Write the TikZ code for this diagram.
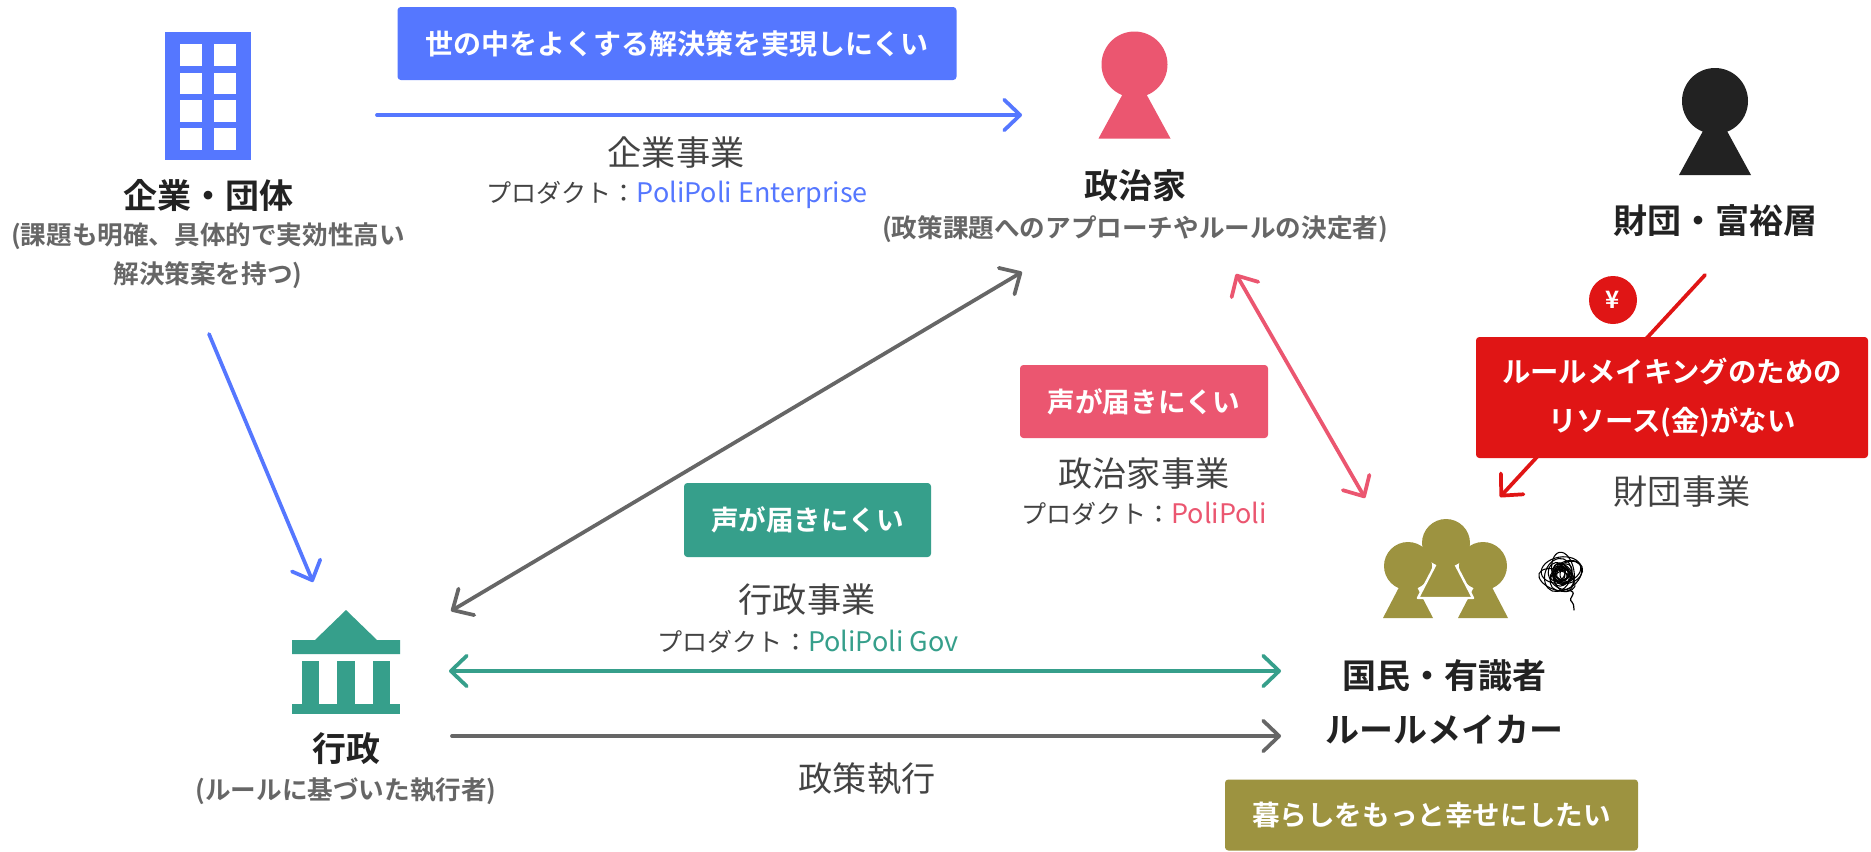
\documentclass[tikz,border=0pt]{standalone}
\usepackage{fontspec}
\setmainfont{Noto Sans CJK JP}[BoldFont={Noto Sans CJK JP Bold}]
\usetikzlibrary{arrows.meta}
\definecolor{cblue}{HTML}{5577FF}
\definecolor{cpink}{HTML}{EB5670}
\definecolor{cteal}{HTML}{369F8B}
\definecolor{cred}{HTML}{E01515}
\definecolor{colive}{HTML}{9D9340}
\definecolor{cgray}{HTML}{666666}
\definecolor{cdark}{HTML}{222222}
\newcommand{\fa}{\fontsize{25.5pt}{30pt}\selectfont}
\newcommand{\fb}{\fontsize{19.2pt}{29pt}\selectfont}
\newcommand{\fc}{\fontsize{20.7pt}{25pt}\selectfont}
\newcommand{\fcc}{\fontsize{21pt}{25pt}\selectfont}
\newcommand{\fd}{\fontsize{25.6pt}{29pt}\selectfont}
\newcommand{\fe}{\fontsize{18.8pt}{24pt}\selectfont}
\newcommand{\latprod}[2]{\textcolor{#1}{\fontsize{20.2pt}{24pt}\selectfont #2}}
\tikzset{
  x=0.75pt,y=-0.75pt,
  title/.style={inner sep=0pt,font=\fa\bfseries,text=cdark,align=center},
  sub/.style={inner sep=0pt,font=\fb\bfseries,text=cgray,align=center},
  biz/.style={inner sep=0pt,font=\fd,text=cdark!85!white,align=center},
  prod/.style={inner sep=0pt,font=\fe,text=cdark!85!white,align=center},
  tagbox/.style={inner sep=0pt,rounded corners=2.5pt,font=\fc\bfseries,text=white,align=center},
  conn/.style={line width=2.8pt,line cap=round,line join=round},
  tip/.style={>={Straight Barb[length=12pt,width=23pt,line width=2.8pt,round]}},
  personpic/.pic={
    \fill[pic actions] (0,0) circle (33);
    \fill[pic actions] (0,8) -- (36,74) -- (-36,74) -- cycle;
  },
  citizenpic/.pic={
    \fill[pic actions] (0,0) circle (24);
    \fill[pic actions] (0,4) -- (25,52) -- (-25,52) -- cycle;
  },
}
\begin{document}
\begin{tikzpicture}
\useasboundingbox (0,0) rectangle (1871,851);
\fill[white] (0,0) rectangle (1871,851);

% building
\fill[cblue] (165,32) rectangle (251,160);
\foreach \wx in {180,214}
  \foreach \wy/\wz in {44/66,73/94,100/122,128/150}
    \fill[white] (\wx,\wy) rectangle (\wx+22,\wz);

% persons
\pic[fill=cpink] at (1134.5,64.5) {personpic};
\pic[fill=cdark] at (1715,101) {personpic};

% government
\fill[cteal] (346,610) -- (377,640) -- (400,640) -- (400,654) -- (292,654) -- (292,640) -- (315,640) -- cycle;
\fill[cteal] (302,661) rectangle (319,705);
\fill[cteal] (337,661) rectangle (355,705);
\fill[cteal] (373,661) rectangle (390,705);
\fill[cteal] (292,704) rectangle (400,714);

% citizens
\pic[fill=colive] at (1408,566) {citizenpic};
\pic[fill=colive] at (1483,566) {citizenpic};
\fill[colive,draw=white,line width=1.8pt,line join=round] (1445.5,545) -- (1473,598) -- (1418,598) -- cycle;
\fill[colive] (1446,543) circle (24);

% scribble
\foreach \cx/\cy/\ang/\ra/\rb in {
  1561/570/10/20/13, 1566/576/40/18/12, 1558/575/70/17/13, 1563/572/100/20/11,
  1557/580/160/19/10, 1568/572/20/15/11, 1561/576/130/15/11, 1563/575/60/12/8,
  1561/574/110/11/8, 1563/576/170/9/7, 1562/574/45/8/6, 1561/575/135/7/5,
  1560/575/15/10/6, 1564/574/85/6/4, 1562/576/25/9/5, 1561/573/75/7/4,
  1563/574/150/11/6, 1559/573/95/9/6}
  \draw[black,line width=.8pt,rotate around={\ang:(\cx,\cy)}] (\cx,\cy) ellipse ({\ra} and {\rb});
\draw[black,line width=.9pt,line cap=round] (1567,590) .. controls (1581,592) and (1566,598) .. (1572,602) .. controls (1575,606) and (1573,608) .. (1574,610);

% connector ends
\coordinate (bluestart) at (377,115);
\coordinate (blueend) at (1022,115);
\coordinate (bdownstart) at (209,334);
\coordinate (bdownend) at (313,582);
\coordinate (pol) at (1022,272);
\coordinate (gov) at (451,611);
\coordinate (polb) at (1236,274);
\coordinate (cit) at (1365,498);
\coordinate (tealL) at (449,671);
\coordinate (tealR) at (1281,671);
\coordinate (grayL) at (452,736);
\coordinate (grayR) at (1281,736);
\coordinate (redstart) at (1705,275);
\coordinate (redend) at (1500,497);

\draw[conn,cblue,tip,->] (bluestart) -- (blueend);
\draw[conn,cblue,tip,->] (bdownstart) -- (bdownend);
\draw[conn,cgray,tip,<->] (pol) -- (gov);
\draw[conn,cpink,tip,<->] (polb) -- (cit);
\draw[conn,cteal,tip,<->] (tealL) -- (tealR);
\draw[conn,cgray,tip,->] (grayL) -- (grayR);
\draw[conn,cred,tip,->] (redstart) -- (redend);

% tag boxes
\node[tagbox,fill=cblue,minimum width=559*0.75pt,minimum height=73*0.75pt,font=\fcc\bfseries] (tagblue) at (677,43.5) {世の中をよくする解決策を実現しにくい};
\node[tagbox,fill=cpink,minimum width=248*0.75pt,minimum height=73*0.75pt] (tagpink) at (1144,401.5) {声が届きにくい};
\node[tagbox,fill=cteal,minimum width=247*0.75pt,minimum height=74*0.75pt] (tagteal) at (807.5,520) {声が届きにくい};
\node[tagbox,fill=cred,minimum width=392*0.75pt,minimum height=121*0.75pt,font=\fontsize{21.3pt}{36.5pt}\selectfont\bfseries] (tagred) at (1672,397.5) {\raisebox{-1.2pt}{ルールメイキングのための}\\\raisebox{-1.2pt}{リソース(金)がない}};
\node[tagbox,fill=colive,minimum width=413*0.75pt,minimum height=71*0.75pt] (tagolive) at (1431.5,815) {暮らしをもっと幸せにしたい};

% yen
\node[circle,fill=cred,minimum size=48*0.75pt,inner sep=0pt,text=white,font=\fontsize{18pt}{18pt}\selectfont\bfseries] (yen) at (1613,300) {¥};

% labels
\node[title] (corp) at (208,196) {企業・団体};
\node[sub] (corpsub) at (208,256) {(課題も明確、具体的で実効性高い\\解決策案を持つ)};
\node[title] (polname) at (1135,186) {政治家};
\node[sub] (polsub) at (1135,229) {(政策課題へのアプローチやルールの決定者)};
\node[title] (found) at (1715,221) {財団・富裕層};
\node[title] (govname) at (346,749) {行政};
\node[sub] (govsub) at (346,791) {(ルールに基づいた執行者)};
\node[title,align=center] (citname) at (1444,676) {国民・有識者};
\node[title,align=center] (rulename) at (1444,730) {ルールメイカー};

\node[biz] (bizcorp) at (676,153) {企業事業};
\node[prod] (prodcorp) at (677,195) {プロダクト：\latprod{cblue}{PoliPoli Enterprise}};
\node[biz] (bizpol) at (1144,474) {政治家事業};
\node[prod] (prodpol) at (1144,514) {プロダクト：\latprod{cpink}{PoliPoli}};
\node[biz] (bizgov) at (807,600) {行政事業};
\node[prod] (prodgov) at (808,642) {プロダクト：\latprod{cteal}{PoliPoli Gov}};
\node[biz] (bizfound) at (1682,492) {財団事業};
\node[biz] (exec) at (867,779) {政策執行};
\end{tikzpicture}
\end{document}
